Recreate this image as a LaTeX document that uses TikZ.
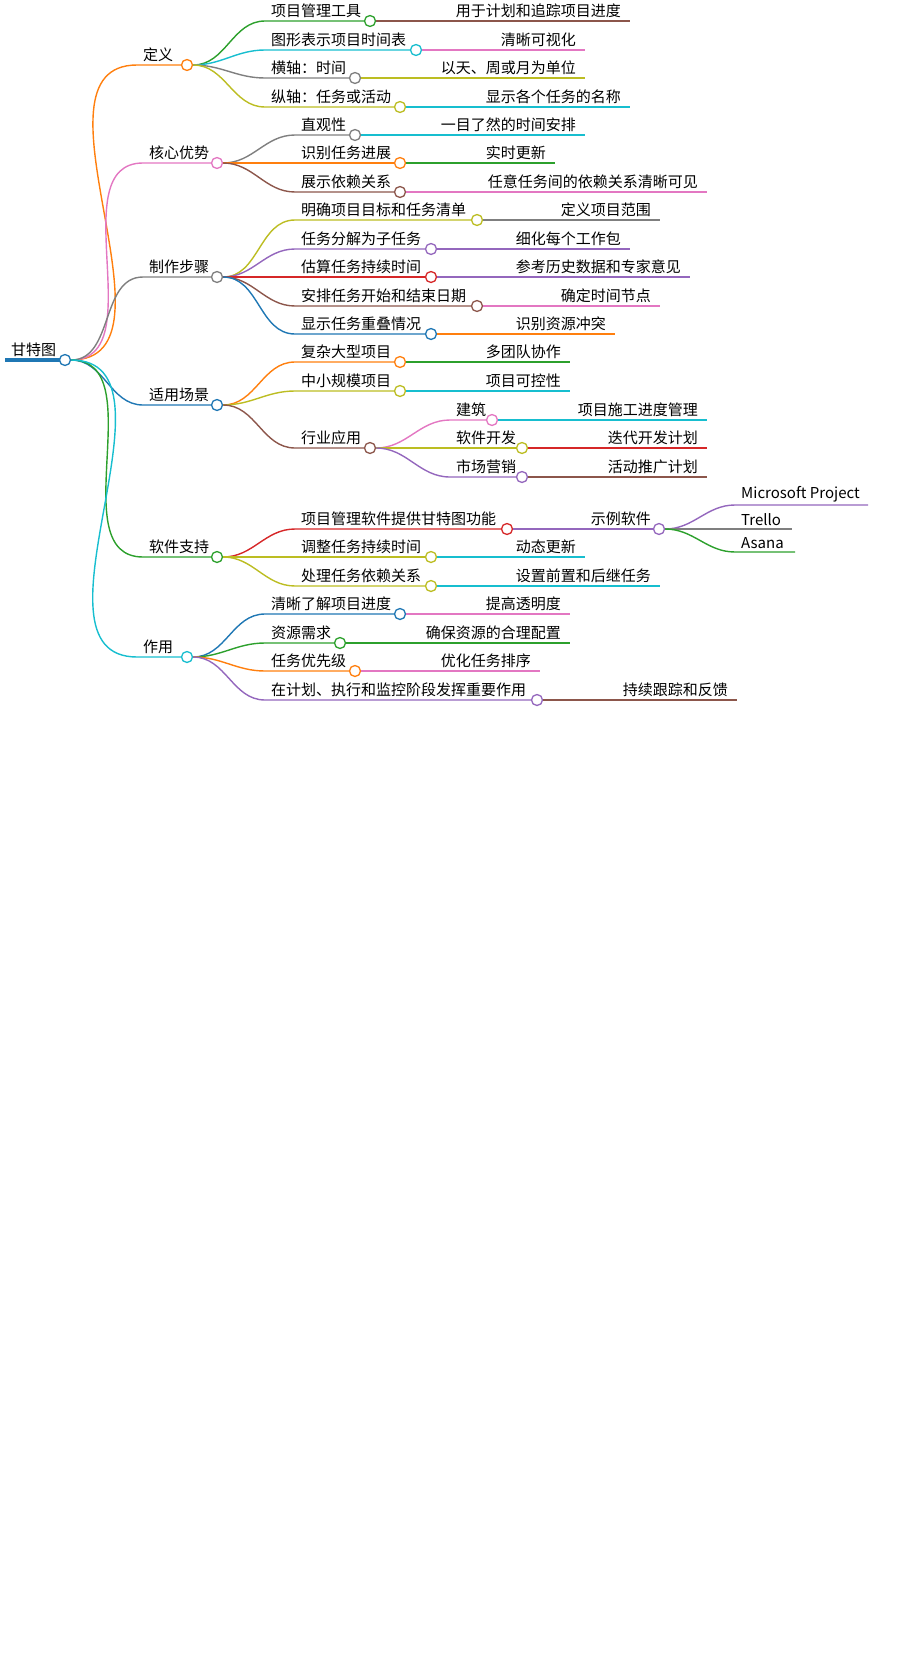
\documentclass[tikz,border=0pt]{standalone}
\usepackage{fontspec}
\setmainfont{Noto Sans CJK SC}
\definecolor{cO}{HTML}{FF7F0E}\definecolor{cP}{HTML}{E377C2}\definecolor{cG}{HTML}{7F7F7F}
\definecolor{cB}{HTML}{1F77B4}\definecolor{cGr}{HTML}{2CA02C}\definecolor{cC}{HTML}{17BECF}
\definecolor{cY}{HTML}{BCBD22}\definecolor{cR}{HTML}{D62728}\definecolor{cV}{HTML}{9467BD}
\definecolor{cBr}{HTML}{8C564B}
\tikzset{circ/.style={circle,fill=white,line width=1.3pt,minimum size=11pt,inner sep=0pt},
 lbl/.style={font=\fontsize{15}{17}\selectfont,inner sep=1pt},
 ln/.style={line width=1.4pt}}
\newcommand\br[7]{%
 \coordinate (#2s) at (#3,#4);
 \draw[ln,#6] (#1.east) to[out=0,in=180] (#2s) -- (#5,#4);
 \node[lbl,anchor=south west] (#2t) at (#3+5,#4-2) {#7};
 \node[circ,draw=#6] (#2) at (#5,#4) {};}
\newcommand\lf[6]{%
 \coordinate (#2e) at (#4,#3);
 \draw[ln,#5] (#1.east) -- (#2e);
 \node[lbl,anchor=south east] (#2t) at (#4-8,#3-2) {#6};}
\newcommand\lfc[6]{%
 \coordinate (#2s) at (#4,#3);
 \draw[ln,#5] (#1.east) to[out=0,in=180] (#2s) -- (#6,#3);}
\begin{document}
\begin{tikzpicture}[x=1pt,y=-1pt]
\useasboundingbox (0,0) rectangle (922,1654);
\draw[cB,line width=4pt] (5,360) -- (60,360);
\node[lbl,anchor=south west] (roott) at (10,358) {甘特图};
\node[circ,draw=cB] (root) at (65,360) {};
% level 1
\br{root}{a}{137}{65}{187}{cO}{定义}
\br{root}{b}{143}{163}{217}{cP}{核心优势}
\br{root}{c}{143}{277}{217}{cG}{制作步骤}
\br{root}{d}{143}{405}{217}{cB}{适用场景}
\br{root}{e}{143}{557}{217}{cGr}{软件支持}
\br{root}{f}{137}{657}{187}{cC}{作用}
% 定义
\br{a}{a1}{265}{21}{370}{cGr}{项目管理工具}\lf{a1}{a1l}{21}{630}{cBr}{用于计划和追踪项目进度}
\br{a}{a2}{265}{50}{416}{cC}{图形表示项目时间表}\lf{a2}{a2l}{50}{585}{cP}{清晰可视化}
\br{a}{a3}{265}{78}{355}{cG}{横轴：时间}\lf{a3}{a3l}{78}{585}{cY}{以天、周或月为单位}
\br{a}{a4}{265}{107}{400}{cY}{纵轴：任务或活动}\lf{a4}{a4l}{107}{630}{cC}{显示各个任务的名称}
% 核心优势
\br{b}{b1}{295}{135}{355}{cG}{直观性}\lf{b1}{b1l}{135}{585}{cC}{一目了然的时间安排}
\br{b}{b2}{295}{163}{400}{cO}{识别任务进展}\lf{b2}{b2l}{163}{555}{cGr}{实时更新}
\br{b}{b3}{295}{192}{400}{cBr}{展示依赖关系}\lf{b3}{b3l}{192}{707}{cP}{任意任务间的依赖关系清晰可见}
% 制作步骤
\br{c}{c1}{295}{220}{477}{cY}{明确项目目标和任务清单}\lf{c1}{c1l}{220}{660}{cG}{定义项目范围}
\br{c}{c2}{295}{249}{431}{cV}{任务分解为子任务}\lf{c2}{c2l}{249}{630}{cV}{细化每个工作包}
\br{c}{c3}{295}{277}{431}{cR}{估算任务持续时间}\lf{c3}{c3l}{277}{690}{cV}{参考历史数据和专家意见}
\br{c}{c4}{295}{306}{477}{cBr}{安排任务开始和结束日期}\lf{c4}{c4l}{306}{660}{cP}{确定时间节点}
\br{c}{c5}{295}{334}{431}{cB}{显示任务重叠情况}\lf{c5}{c5l}{334}{615}{cO}{识别资源冲突}
% 适用场景
\br{d}{d1}{295}{362}{400}{cO}{复杂大型项目}\lf{d1}{d1l}{362}{570}{cGr}{多团队协作}
\br{d}{d2}{295}{391}{400}{cY}{中小规模项目}\lf{d2}{d2l}{391}{570}{cC}{项目可控性}
\br{d}{d3}{295}{448}{370}{cBr}{行业应用}
\br{d3}{d31}{450}{420}{492}{cP}{建筑}\lf{d31}{d31l}{420}{707}{cC}{项目施工进度管理}
\br{d3}{d32}{450}{448}{522}{cY}{软件开发}\lf{d32}{d32l}{448}{707}{cR}{迭代开发计划}
\br{d3}{d33}{450}{477}{522}{cV}{市场营销}\lf{d33}{d33l}{477}{707}{cBr}{活动推广计划}
% 软件支持
\br{e}{e1}{295}{529}{507}{cR}{项目管理软件提供甘特图功能}
\draw[ln,cV] (e1.east) -- (654,529);
\node[lbl,anchor=south east] (e2t) at (652,527) {示例软件};
\node[circ,draw=cV] (e2) at (659,529) {};
\lfc{e2}{e21}{505}{735}{cV}{868}\node[lbl,anchor=south west] (e21t) at (740,503) {Microsoft Project};
\lfc{e2}{e22}{529}{735}{cG}{792}\node[lbl,anchor=south west] (e22t) at (740,527) {Trello};
\lfc{e2}{e23}{552}{735}{cGr}{795}\node[lbl,anchor=south west] (e23t) at (740,550) {Asana};
\br{e}{e3}{295}{557}{431}{cY}{调整任务持续时间}\lf{e3}{e3l}{557}{585}{cC}{动态更新}
\br{e}{e4}{295}{586}{431}{cY}{处理任务依赖关系}\lf{e4}{e4l}{586}{660}{cC}{设置前置和后继任务}
% 作用
\br{f}{f1}{265}{614}{400}{cB}{清晰了解项目进度}\lf{f1}{f1l}{614}{570}{cP}{提高透明度}
\br{f}{f2}{265}{643}{340}{cGr}{资源需求}\lf{f2}{f2l}{643}{570}{cGr}{确保资源的合理配置}
\br{f}{f3}{265}{671}{355}{cO}{任务优先级}\lf{f3}{f3l}{671}{540}{cP}{优化任务排序}
\br{f}{f4}{265}{700}{537}{cV}{在计划、执行和监控阶段发挥重要作用}\lf{f4}{f4l}{700}{737}{cBr}{持续跟踪和反馈}
\end{tikzpicture}
\end{document}
